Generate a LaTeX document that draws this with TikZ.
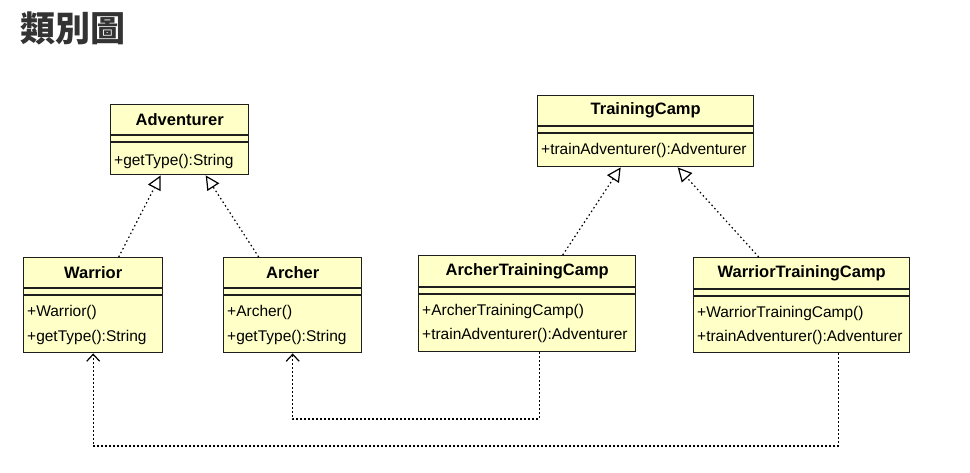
\documentclass[tikz,border=0pt]{standalone}
\usepackage{fontspec}
\setmainfont{Liberation Sans}
\newfontfamily\cjk{Noto Sans CJK TC}
\usetikzlibrary{arrows.meta,calc}
\definecolor{classfill}{HTML}{FFFFC8}
\definecolor{classline}{HTML}{1E1E1E}
\definecolor{titlegray}{HTML}{333333}
\tikzset{
  classbox/.style={draw=classline, line width=1.4pt, fill=classfill, anchor=north west, inner sep=0pt},
  sepline/.style={draw=classline, line width=1.2pt},
  ctitle/.style={font=\fontsize{16.5}{18}\selectfont\bfseries, inner sep=0pt, anchor=center},
  cmember/.style={font=\fontsize{15.5}{17}\selectfont, inner sep=0pt, anchor=west},
  realize/.style={draw=black, line width=1.2pt, dash pattern=on 1.5pt off 2.8pt, -{Triangle[open, length=14pt, width=14pt, line width=1.2pt]}},
  depend/.style={draw=black, line width=1.2pt, dash pattern=on 2pt off 2pt, -{Straight Barb[length=7pt, width=13pt, line width=1.2pt]}},
}
% \umlclass{name}{x}{y}{w}{h}{sep1 offset}{title}
\newcommand{\umlclass}[7]{%
  \node[classbox, minimum width=#4pt, minimum height=#5pt] (#1) at (#2,#3) {};
  \draw[sepline] ($(#1.north west)+(0,#6)$) -- ($(#1.north east)+(0,#6)$);
  \draw[sepline] ($(#1.north west)+(0,#6+7)$) -- ($(#1.north east)+(0,#6+7)$);
  \node[ctitle] (#1-title) at ($(#1.north)+(0,#6/2)$) {#7};
}
\begin{document}
\begin{tikzpicture}[x=1pt,y=-1pt]
\useasboundingbox (0,0) rectangle (970,472);
\fill[white] (0,0) rectangle (970,472);

\node[anchor=west, inner sep=0pt, text=titlegray, font=\cjk\bfseries\fontsize{35}{37}\selectfont] (title) at (20,28) {類別圖};

% classes
\umlclass{adv}{110}{104}{138}{70}{31}{Adventurer}
\node[cmember] (adv-m1) at ($(adv.north west)+(4,57)$) {+getType():String};

\umlclass{war}{23}{257}{139}{95}{31}{Warrior}
\node[cmember] (war-m1) at ($(war.north west)+(4,55)$) {+Warrior()};
\node[cmember] (war-m2) at ($(war.north west)+(4,80)$) {+getType():String};

\umlclass{arc}{223}{257}{138}{95}{31}{Archer}
\node[cmember] (arc-m1) at ($(arc.north west)+(4,55)$) {+Archer()};
\node[cmember] (arc-m2) at ($(arc.north west)+(4,80)$) {+getType():String};

\umlclass{tc}{537}{95}{216}{71}{31}{TrainingCamp}
\node[cmember] (tc-m1) at ($(tc.north west)+(4,55)$) {+trainAdventurer():Adventurer};

\umlclass{atc}{418}{255}{217}{96}{32}{ArcherTrainingCamp}
\node[cmember] (atc-m1) at ($(atc.north west)+(4,56)$) {+ArcherTrainingCamp()};
\node[cmember] (atc-m2) at ($(atc.north west)+(4,80)$) {+trainAdventurer():Adventurer};

\umlclass{wtc}{693}{257}{216}{95}{32}{WarriorTrainingCamp}
\node[cmember] (wtc-m1) at ($(wtc.north west)+(4,56)$) {+WarriorTrainingCamp()};
\node[cmember] (wtc-m2) at ($(wtc.north west)+(4,80)$) {+trainAdventurer():Adventurer};

% realizations
\draw[realize] ([xshift=25.5pt]war.north) -- ([xshift=-19pt]adv.south);
\draw[realize] ([xshift=-34pt]arc.north) -- ([xshift=26pt]adv.south);
\draw[realize] ([xshift=35.5pt]atc.north) -- ([xshift=-25pt]tc.south);
\draw[realize] ([xshift=-43pt]wtc.north) -- ([xshift=32pt]tc.south);

% dependencies
\coordinate (d1) at (400,419);
\coordinate (d2) at (400,446);
\draw[depend] ([xshift=12.5pt]atc.south) |- (d1) -| (arc.south);
\draw[depend] ([xshift=37pt]wtc.south) |- (d2) -| (war.south);
\end{tikzpicture}
\end{document}
